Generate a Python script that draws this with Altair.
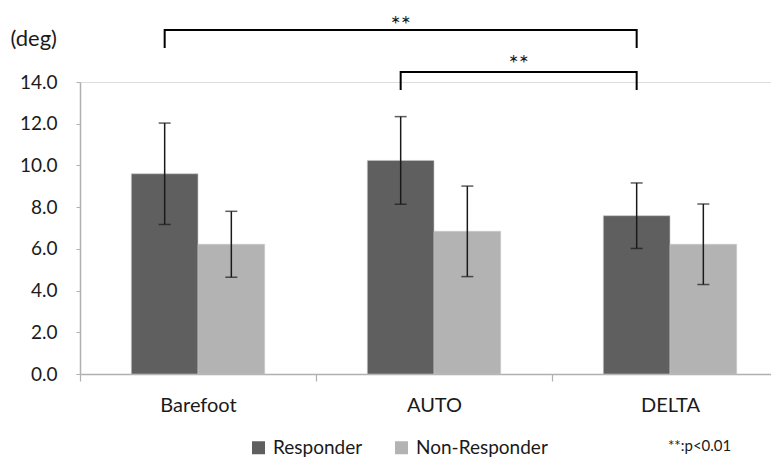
import altair as alt
import pandas as pd

categories = ["Barefoot", "AUTO", "DELTA"]
groups = ["Responder", "Non-Responder"]
responder_mean = [9.6, 10.24, 7.59]
responder_sd = [2.43, 2.1, 1.57]
nonresp_mean = [6.22, 6.84, 6.22]
nonresp_sd = [1.58, 2.17, 1.93]

# significance brackets (between Responder bars)
bracket_from = ["Barefoot", "AUTO"]
bracket_to = ["DELTA", "DELTA"]
bracket_top = [16.49, 14.48]
bracket_leg = [15.63, 13.62]
star_y = [17.25, 15.4]
star_label = ["**", "**"]
note_text = "**:p<0.01"

rows = []
for i, c in enumerate(categories):
    rows.append(dict(cat=c, grp="Responder", mean=responder_mean[i],
                     lo=responder_mean[i] - responder_sd[i], hi=responder_mean[i] + responder_sd[i]))
    rows.append(dict(cat=c, grp="Non-Responder", mean=nonresp_mean[i],
                     lo=nonresp_mean[i] - nonresp_sd[i], hi=nonresp_mean[i] + nonresp_sd[i]))
df = pd.DataFrame(rows)

brows = []
for b in range(len(bracket_from)):
    pts = [(bracket_from[b], bracket_leg[b]), (bracket_from[b], bracket_top[b]),
           (bracket_to[b], bracket_top[b]), (bracket_to[b], bracket_leg[b])]
    for k, (c, y) in enumerate(pts):
        brows.append(dict(bid=b, ord=k, cat=c, grp="Responder", y=y))
bdf = pd.DataFrame(brows)

FONT = "Lato"
TXT = "#1a1a1a"
xscale = alt.Scale(domain=categories, range=[0, 708], paddingInner=0, paddingOuter=0)
xoff = alt.Scale(domain=groups, paddingInner=0, paddingOuter=0.77)
yscale = alt.Scale(domain=[0, 14], nice=False)

x_enc = alt.X("cat:N", scale=xscale, sort=categories,
              axis=alt.Axis(title=None, labelAngle=0, tickBand="extent", labelFontSize=20,
                            labelFont=FONT, labelColor=TXT, labelPadding=14,
                            domainColor="#b0b0b0", tickColor="#b0b0b0", tickSize=7,
                            domainWidth=1.5, tickWidth=1.2))
y_enc = alt.Y("mean:Q", scale=yscale,
              axis=alt.Axis(title="(deg)", values=[0, 2, 4, 6, 8, 10, 12, 14], format=".1f",
                            grid=False, labelFontSize=19, labelFont=FONT, labelColor=TXT,
                            labelPadding=19, domainColor="#b0b0b0", tickColor="#b0b0b0",
                            tickSize=4, domainWidth=1.5, titleAngle=0, titleAlign="left",
                            titleBaseline="middle", titleX=-70, titleY=-44, titleFont=FONT,
                            titleFontSize=22, titleFontWeight="normal", titleColor=TXT))

bars = alt.Chart(df).mark_bar(stroke="#c8c8c8", strokeWidth=0.6).encode(
    x=x_enc,
    xOffset=alt.XOffset("grp:N", scale=xoff, sort=groups),
    y=y_enc,
    color=alt.Color("grp:N", sort=groups,
                    scale=alt.Scale(domain=groups, range=["#5f5f5f", "#b3b3b3"]),
                    legend=alt.Legend(title=None, orient="none", direction="horizontal",
                                      legendX=169, legendY=356, symbolType="square",
                                      symbolSize=169, symbolStrokeWidth=0, labelFontSize=19,
                                      labelFont=FONT, labelColor=TXT, columnPadding=29,
                                      symbolOffset=0, labelOffset=5)),
)

common_x = dict(
    x=alt.X("cat:N", scale=xscale, sort=categories),
    xOffset=alt.XOffset("grp:N", scale=xoff, sort=groups),
)

err = alt.Chart(df).mark_rule(color=TXT, strokeWidth=1.5).encode(
    **common_x, y=alt.Y("lo:Q", scale=yscale), y2="hi:Q")
cap_lo = alt.Chart(df).mark_tick(color=TXT, thickness=1.5, size=12, orient="horizontal").encode(
    **common_x, y=alt.Y("lo:Q", scale=yscale))
cap_hi = alt.Chart(df).mark_tick(color=TXT, thickness=1.5, size=12, orient="horizontal").encode(
    **common_x, y=alt.Y("hi:Q", scale=yscale))

brackets = alt.Chart(bdf).mark_line(color="#000", strokeWidth=2, clip=False).encode(
    **common_x,
    y=alt.Y("y:Q", scale=yscale),
    detail="bid:N",
    order="ord:Q",
)

# star 1: centred over the long bracket (mid-point = AUTO responder bar)
star1 = alt.Chart(pd.DataFrame({"cat": ["AUTO"], "grp": ["Responder"], "y": [star_y[0]],
                                "label": [star_label[0]]})).mark_text(
    font=FONT, fontSize=24, color=TXT, baseline="top", clip=False).encode(
    **common_x, y=alt.Y("y:Q", scale=yscale), text="label:N")
# star 2: centred over the short bracket (half a category step right of AUTO responder bar)
star2 = alt.Chart(pd.DataFrame({"cat": ["AUTO"], "grp": ["Responder"], "y": [star_y[1]],
                                "label": [star_label[1]]})).mark_text(
    font=FONT, fontSize=24, color=TXT, baseline="top", clip=False, dx=118).encode(
    **common_x, y=alt.Y("y:Q", scale=yscale), text="label:N")

note = alt.Chart(pd.DataFrame({"t": [note_text]})).mark_text(
    font=FONT, fontSize=15, color=TXT, align="left", baseline="middle").encode(
    x=alt.value(588), y=alt.value(364), text="t:N")

chart = alt.layer(bars, err, cap_lo, cap_hi, brackets, star1, star2, note).properties(
    width=691, height=292,
    autosize=alt.AutoSizeParams(type="none"),
    padding={"left": 72, "top": 74, "right": 0, "bottom": 84},
).configure_view(stroke=None).configure(background="white")

chart.save("out.html", embed_options={"renderer": "svg", "actions": False})
